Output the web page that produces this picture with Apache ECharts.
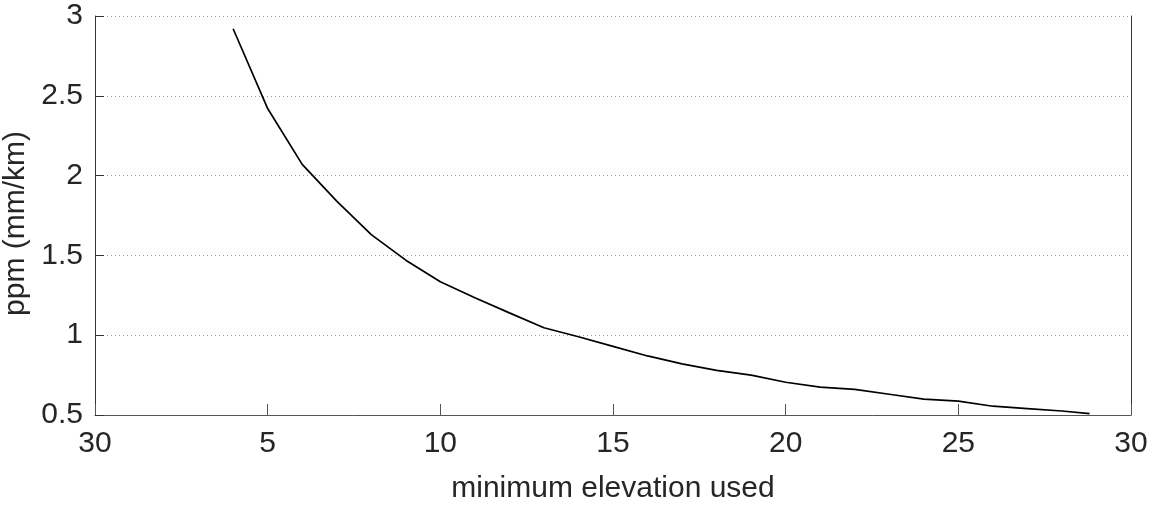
<!DOCTYPE html>
<html>
<head>
<meta charset="utf-8">
<script src="https://cdn.jsdelivr.net/npm/echarts@6/dist/echarts.min.js"></script>
<style>
  html, body { margin: 0; padding: 0; background: #fff; }
  #root { width: 1169px; height: 506px; }
</style>
</head>
<body>
<div id="root"></div>
<script>
// minimum elevation used (deg) vs ppm
const elevation = [4, 5, 6, 7, 8, 9, 10, 11, 12, 13, 14, 15, 16, 17, 18, 19, 20, 21, 22, 23, 24, 25, 26, 27, 28, 28.8];
const ppm = [2.92, 2.42, 2.07, 1.84, 1.63, 1.47, 1.335, 1.235, 1.14, 1.047, 0.99, 0.93, 0.87, 0.82, 0.78, 0.75, 0.705, 0.675, 0.66, 0.63, 0.60, 0.587, 0.555, 0.54, 0.525, 0.509];
const xTickLabels = ['30', '5', '10', '15', '20', '25', '30'];

const myChart = echarts.init(document.getElementById('root'));

const font = 'Liberation Sans, Arial, Helvetica, sans-serif';
const textColor = '#262626';
const fs = 30;

let data = elevation.map((x, i) => [x, ppm[i]]);

let option = {
  animation: false,
  grid: { left: 95, right: 38, top: 16, bottom: 91, outerBoundsMode: 'none', containLabel: false },
  xAxis: {
    type: 'value',
    min: 0,
    max: 30,
    interval: 5,
    name: 'minimum elevation used',
    nameLocation: 'middle',
    nameGap: 59,
    nameTextStyle: { fontFamily: font, fontSize: fs, color: textColor },
    axisLine: { show: true, lineStyle: { color: '#555', width: 1 } },
    axisTick: { show: true, inside: true, length: 11, lineStyle: { color: '#555' } },
    axisLabel: {
      fontFamily: font, fontSize: fs, color: textColor, margin: 14,
      formatter: v => xTickLabels[Math.round(v / 5)]
    },
    splitLine: { show: false }
  },
  yAxis: [{
    type: 'value',
    min: 0.5,
    max: 3,
    interval: 0.5,
    name: 'ppm (mm/km)',
    nameLocation: 'middle',
    nameGap: 55,
    nameTextStyle: { fontFamily: font, fontSize: fs, color: textColor, padding: [0, 16, 0, 0] },
    axisLine: { show: true, lineStyle: { color: '#333', width: 1 } },
    axisTick: { show: true, inside: true, length: 9, lineStyle: { color: '#333' } },
    axisLabel: { fontFamily: font, fontSize: fs, color: textColor, margin: 12 },
    splitLine: { show: true, lineStyle: { color: '#999', type: [1, 3], width: 1 } }
  }, {
    type: 'value',
    position: 'right',
    min: 0.5,
    max: 3,
    interval: 0.5,
    axisLine: { show: true, lineStyle: { color: '#333', width: 1 } },
    axisTick: { show: false },
    axisLabel: { show: false },
    splitLine: { show: false }
  }],
  series: [{
    type: 'line',
    showSymbol: false,
    data: data,
    lineStyle: { color: '#000', width: 1.7 }
  }]
};

myChart.setOption(option);
</script>
</body>
</html>
